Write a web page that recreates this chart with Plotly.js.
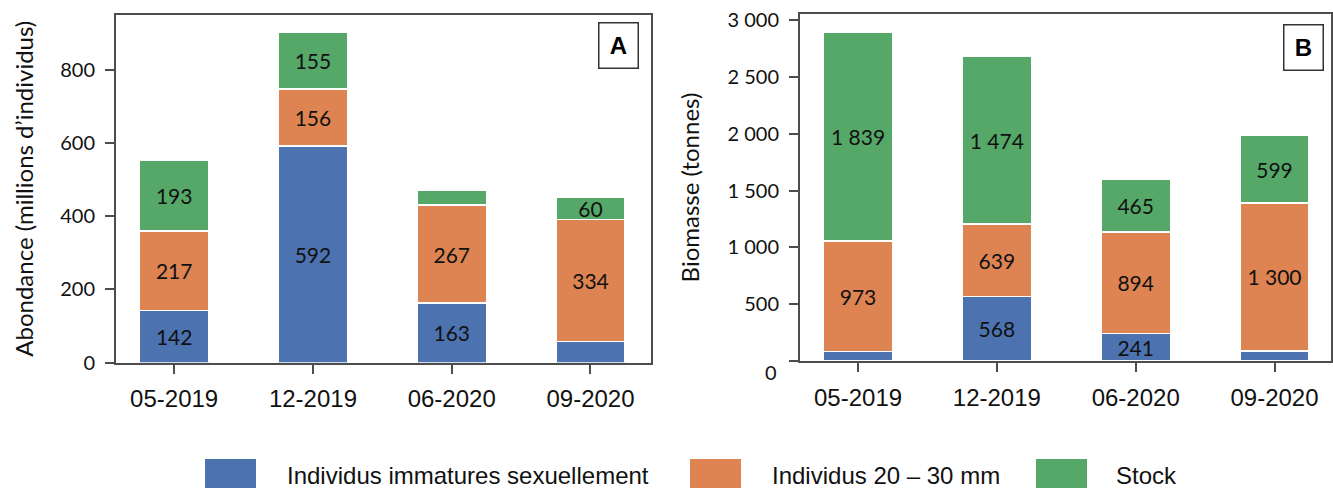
<!DOCTYPE html>
<html>
<head>
<meta charset="utf-8">
<script src="https://cdn.plot.ly/plotly-3.0.1.min.js"></script>
<style>html,body{margin:0;padding:0;background:#fff;}#chart{width:1333px;height:488px;}</style>
</head>
<body>
<div id="chart"></div>
<script>
// ---- data ----
const categories = ['05-2019', '12-2019', '06-2020', '09-2020'];
const seriesNames = ['Individus immatures sexuellement', 'Individus 20 – 30 mm', 'Stock'];
const seriesColors = ['#4C72B0', '#DD8452', '#55A868'];

// Panel A : Abondance (millions d'individus)
const abondanceImmatures = [142, 592, 163, 57];
const abondance2030 = [217, 156, 267, 334];
const abondanceStock = [193, 155, 40, 60];
const labelsShownA = [[true, true, true, false], [true, true, true, true], [true, true, false, true]];

// Panel B : Biomasse (tonnes)
const biomasseImmatures = [85, 568, 241, 90];
const biomasse2030 = [973, 639, 894, 1300];
const biomasseStock = [1839, 1474, 465, 599];
const labelsShownB = [[false, true, true, false], [true, true, true, true], [true, true, true, true]];

const yTickValsA = [0, 200, 400, 600, 800];
const yTickTextA = ['0', '200', '400', '600', '800'];
const yTickValsB = [0, 500, 1000, 1500, 2000, 2500, 3000];
const yTickTextB = ['', '500', '1 000', '1 500', '2 000', '2 500', '3 000'];

const titleA = 'Abondance (millions d’individus)';
const titleB = 'Biomasse (tonnes)';

// ---- build ----
const W = 1333, H = 488;
const fmt = v => String(v).replace(/\B(?=(\d{3})+(?!\d))/g, ' ');
const LATO = 'Lato, "Open Sans", sans-serif';
const ARIAL = '"Liberation Sans", Arial, sans-serif';

function makeTraces(seriesList, shown, xa, ya) {
  return seriesList.map((vals, s) => ({
    type: 'bar',
    x: categories,
    y: vals,
    xaxis: xa, yaxis: ya,
    name: seriesNames[s],
    showlegend: false,
    width: 0.5,
    marker: {color: seriesColors[s], line: {color: '#ffffff', width: 1.5}},
    text: vals.map((v, i) => shown[s][i] ? fmt(v) : ''),
    textposition: 'inside',
    insidetextanchor: 'middle',
    textangle: 0,
    constraintext: 'none',
    insidetextfont: {family: LATO, size: 21, color: '#111111'},
    hoverinfo: 'x+y+name'
  }));
}

const traces = [
  ...makeTraces([abondanceImmatures, abondance2030, abondanceStock], labelsShownA, 'x', 'y'),
  ...makeTraces([biomasseImmatures, biomasse2030, biomasseStock], labelsShownB, 'x2', 'y2')
];

const lineCol = '#4d4d4d';
function xAxis(domain, range, anchor) {
  return {
    domain: domain, range: range, anchor: anchor, type: 'category',
    showline: true, mirror: true, linecolor: lineCol, linewidth: 2,
    ticks: 'outside', ticklen: 9, tickwidth: 2, tickcolor: lineCol,
    tickfont: {family: ARIAL, size: 24, color: '#111111'},
    ticklabelstandoff: 5,
    showgrid: false, zeroline: false, fixedrange: true
  };
}
function yAxis(domain, range, anchor, vals, txt, title, standoff) {
  return {
    domain: domain, range: range, anchor: anchor,
    tickmode: 'array', tickvals: vals, ticktext: txt,
    showline: true, mirror: true, linecolor: lineCol, linewidth: 2,
    ticks: 'outside', ticklen: 9, tickwidth: 2, tickcolor: lineCol,
    tickfont: {family: LATO, size: 20, color: '#111111'},
    ticklabelstandoff: 6,
    title: {text: title, font: {family: LATO, size: 24, color: '#111111'}, standoff: standoff},
    showgrid: false, zeroline: false, fixedrange: true
  };
}

const yDomA = [1 - 362.5 / H, 1 - 15 / H];
const yDomB = [1 - 361 / H, 1 - 14 / H];

const annotations = [
  {xref: 'paper', yref: 'paper', x: 618.5 / W, y: 1 - 45.5 / H, text: '<b>A</b>', showarrow: false,
   font: {family: ARIAL, size: 24, color: '#000'}, bordercolor: '#333', borderwidth: 1.5, borderpad: 0,
   width: 38, height: 44, bgcolor: '#fff', xanchor: 'center', yanchor: 'middle'},
  {xref: 'paper', yref: 'paper', x: 1303 / W, y: 1 - 47.5 / H, text: '<b>B</b>', showarrow: false,
   font: {family: ARIAL, size: 24, color: '#000'}, bordercolor: '#333', borderwidth: 1.5, borderpad: 0,
   width: 38, height: 44, bgcolor: '#fff', xanchor: 'center', yanchor: 'middle'},
  // displaced zero label of panel B
  {xref: 'paper', yref: 'y2', x: 779 / W, y: yTickValsB[0], yshift: -11, text: '0', showarrow: false,
   xanchor: 'right', yanchor: 'middle', font: {family: LATO, size: 20, color: '#111111'}}
];

// legend drawn as shapes + annotations
const legendRects = [[205, 256], [690, 741], [1036, 1087]];
const legendTextX = [285, 770, 1114];
const shapes = [];
legendRects.forEach((r, i) => {
  shapes.push({type: 'rect', xref: 'paper', yref: 'paper', x0: r[0] / W, x1: r[1] / W,
               y0: 0, y1: 1 - 459 / H, fillcolor: seriesColors[i], line: {width: 0}});
  annotations.push({xref: 'paper', yref: 'paper', x: legendTextX[i] / W, y: 1 - 475 / H,
                    text: seriesNames[i], showarrow: false, xanchor: 'left', yanchor: 'middle',
                    font: {family: ARIAL, size: 24, color: '#111111'}});
});

const layout = {
  width: W, height: H, autosize: false,
  margin: {l: 0, r: 0, t: 0, b: 0, pad: 0},
  paper_bgcolor: '#ffffff', plot_bgcolor: '#ffffff',
  barmode: 'stack',
  showlegend: false,
  xaxis: xAxis([116 / W, 651 / W], [-0.419, 3.436], 'y'),
  yaxis: yAxis(yDomA, [0, 950], 'x', yTickValsA, yTickTextA, titleA, 20),
  xaxis2: xAxis([800 / W, 1331 / W], [-0.418, 3.407], 'y2'),
  yaxis2: yAxis(yDomB, [0, 3055], 'x2', yTickValsB, yTickTextB, titleB, 21),
  annotations: annotations,
  shapes: shapes
};

Plotly.newPlot('chart', traces, layout, {displayModeBar: false, staticPlot: true});
</script>
</body>
</html>
